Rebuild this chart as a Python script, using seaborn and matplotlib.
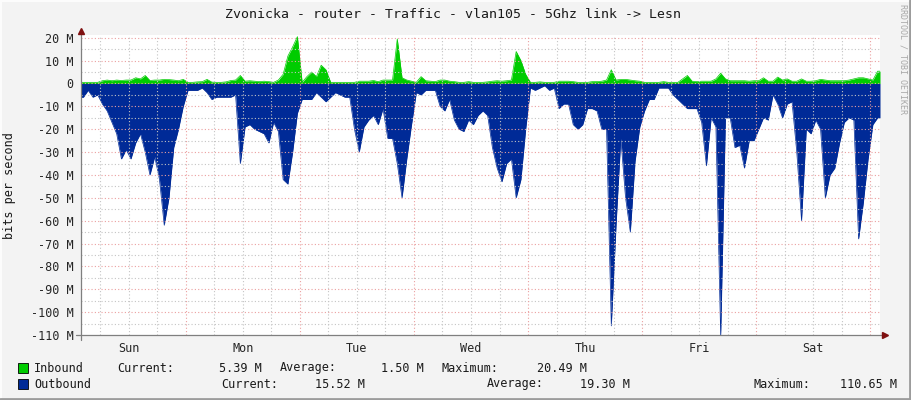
import numpy as np
import pandas as pd
import matplotlib
matplotlib.use("Agg")
import matplotlib.pyplot as plt
from matplotlib.patches import Rectangle
from matplotlib.lines import Line2D
import seaborn as sns

# --- data (Mbit/s, one value per hour, graph starts Sunday 02:00) ---
title = "Zvonicka - router - Traffic - vlan105 - 5Ghz link -> Lesn"
days = ["Sun", "Mon", "Tue", "Wed", "Thu", "Fri", "Sat"]
start_hour = 2
span_hours = 168

inbound_m = [
    0.5, 0.5, 0.5, 0.5, 1.2, 1.5, 1.2, 1.5, 1.3, 1.5,
    1.5, 2.5, 2.0, 3.5, 1.3, 1.5, 1.5, 1.8, 1.7, 1.5,
    1.2, 1.8, 0.5, 0.5, 0.7, 0.8, 1.8, 0.6,
    0.5, 0.5, 0.7, 1.3, 1.5, 3.5, 1.0, 1.2, 1.0, 0.8,
    1.0, 0.8, 0.5, 1.5, 4.0, 12.0, 16.0, 20.49, 0.5, 3.0,
    5.0, 3.0, 8.0, 6.0, 0.5, 0.5, 0.5, 0.5,
    0.5, 0.5, 1.0, 1.0, 1.0, 1.3, 0.8, 1.5, 1.5, 1.5,
    19.5, 2.5, 1.5, 1.0, 0.5, 3.0, 1.2, 1.0, 0.8, 1.5,
    1.5, 1.0, 0.8, 0.5, 0.5, 0.8, 0.5, 0.5,
    0.5, 0.7, 1.0, 1.2, 1.0, 1.2, 1.5, 14.0, 10.0, 4.0,
    0.5, 0.5, 0.7, 0.5, 0.5, 0.5, 1.0, 1.0, 1.0, 0.8,
    0.5, 0.5, 0.5, 0.8, 0.8, 1.0, 1.5, 6.0,
    1.5, 1.8, 1.8, 1.5, 1.2, 1.0, 0.5, 0.5, 0.5, 0.5,
    0.8, 0.5, 0.5, 0.5, 2.0, 3.5, 1.0, 0.8, 1.0, 1.0,
    1.0, 2.0, 4.5, 2.0, 1.2, 1.2, 1.2, 1.2,
    1.0, 1.2, 1.2, 2.5, 1.0, 1.0, 2.8, 1.5, 2.0, 1.0,
    1.0, 2.0, 1.0, 1.0, 1.2, 1.8, 1.5, 1.2, 1.2, 1.2,
    1.2, 1.5, 2.0, 2.5, 2.5, 2.0, 1.5, 5.39,
]

outbound_m = [
    6, 3, 6, 5, 9, 12, 17, 22, 33, 29,
    33, 26, 22, 30, 40, 32, 42, 62, 50, 28,
    20, 10, 3, 3, 3, 2, 4, 7,
    6, 6, 6, 6, 5, 35, 19, 18, 20, 21,
    22, 26, 17, 21, 42, 44, 30, 13, 7, 7,
    7, 4, 6, 8, 6, 4, 5, 6,
    6, 20, 30, 19, 16, 14, 18, 11, 24, 24,
    35, 50, 33, 18, 4, 5, 3, 3, 3, 10,
    12, 7, 16, 20, 21, 16, 18, 14,
    12, 14, 28, 37, 43, 35, 33, 50, 42, 20,
    2, 3, 2, 1, 3, 2, 11, 9, 9, 18,
    20, 18, 11, 11, 12, 20, 20, 106,
    62, 24, 50, 65, 34, 19, 12, 7, 7, 2,
    2, 2, 5, 7, 9, 11, 11, 11, 17, 36,
    15, 19, 110.65, 15, 15, 28, 27, 37,
    25, 25, 20, 15, 16, 5, 9, 15, 9, 8,
    30, 60, 20, 22, 16, 20, 50, 40, 37, 26,
    17, 15, 16, 68, 52, 33, 18, 15,
]

legend_names = ["Inbound", "Outbound"]
inbound_stats = ["5.39 M", "1.50 M", "20.49 M"]
outbound_stats = ["15.52 M", "19.30 M", "110.65 M"]

IN_COLOR = "#00CC00"
OUT_COLOR = "#002A97"
MAJOR_GRID = "#EBA0A0"
MINOR_GRID = "#C4C4C4"
AXIS_COLOR = "#7F7F7F"
ARROW_COLOR = "#7F1010"

W, H = 911, 400


def fx(px):
    return px / W


def fy(py):
    return 1 - py / H


sns.set_theme(style="white")
plt.rcParams["font.family"] = ["DejaVu Sans Mono"]
plt.rcParams["text.color"] = "#1A1A1A"

fig = plt.figure(figsize=(W / 100, H / 100), dpi=100, facecolor="#F3F3F3")
ax = fig.add_axes([fx(81), fy(335), 799 / W, 300 / H])
ax.set_facecolor("white")

# samples sit in the middle of each hour; first/last sample held out to the edges
hours = [0.0] + list(np.arange(span_hours) + 0.5) + [float(span_hours)]
df = pd.DataFrame({
    "hour": hours,
    "inbound": inbound_m[:1] + inbound_m + inbound_m[-1:],
    "outbound": [-v for v in outbound_m[:1] + outbound_m + outbound_m[-1:]],
})

ax.fill_between(df["hour"], 0, df["inbound"], color=IN_COLOR, lw=0, zorder=2)
ax.fill_between(df["hour"], 0, df["outbound"], color=OUT_COLOR, lw=0, zorder=2)
sns.lineplot(data=df, x="hour", y="inbound", color=IN_COLOR, lw=0.5, ax=ax, zorder=3)
sns.lineplot(data=df, x="hour", y="outbound", color=OUT_COLOR, lw=0.5, ax=ax, zorder=3)

ax.set_xlim(0, span_hours)
ax.set_ylim(-110, 21.2)

# grid drawn over the areas, rrdtool style
for v in range(-105, 21, 5):
    ax.axhline(v, color=MAJOR_GRID if v % 10 == 0 else MINOR_GRID,
               ls=(0, (1, 2)), lw=0.8, zorder=4)
for h in range(6 - start_hour, span_hours, 6):
    midnight = (h + start_hour) % 24 == 0
    ax.axvline(h, color=MAJOR_GRID if midnight else MINOR_GRID,
               ls=(0, (1, 2)), lw=0.8, zorder=4)

yticks = list(range(-110, 21, 10))
ax.set_yticks(yticks)
ax.set_yticklabels([f"{v} M" if v else "0" for v in yticks], fontsize=8.5)
noons = [24 * i + 12 - start_hour for i in range(len(days))]
ax.set_xticks(noons)
ax.set_xticklabels(days, fontsize=8.5)
ax.set_xticks(list(range(6 - start_hour, span_hours, 6)), minor=True)
ax.tick_params(axis="y", direction="inout", length=6, width=0.8, color=AXIS_COLOR, pad=2.5)
ax.tick_params(axis="x", which="both", direction="inout", length=4, width=0.8,
               color=AXIS_COLOR, pad=3)
ax.set_xlabel("")
ax.set_ylabel("")
for s in ax.spines.values():
    s.set_visible(False)

# axes with arrows
fig.add_artist(Line2D([fx(81), fx(81)], [fy(340), fy(31)], color=AXIS_COLOR, lw=0.9))
fig.add_artist(Line2D([fx(76), fx(884)], [fy(335), fy(335)], color=AXIS_COLOR, lw=0.9))
fig.add_artist(Line2D([fx(81)], [fy(31)], marker="^", ms=4.5, color=ARROW_COLOR, lw=0))
fig.add_artist(Line2D([fx(885)], [fy(335)], marker=">", ms=4.5, color=ARROW_COLOR, lw=0))

# texts
fig.text(fx(453), fy(15), title, ha="center", va="center", fontsize=9.5)
fig.text(fx(10), fy(186), "bits per second", rotation=90, ha="center", va="center", fontsize=8.5)
fig.text(fx(903), fy(4), "RRDTOOL / TOBI OETIKER", rotation=270, ha="center", va="top",
         fontsize=6, color="#A8A8A8")

# legend
for row, (name, color) in enumerate([(legend_names[0], IN_COLOR), (legend_names[1], OUT_COLOR)]):
    yc = 368 + 16 * row
    fig.add_artist(Rectangle((fx(18), fy(yc + 5)), 10 / W, 10 / H, facecolor=color,
                             edgecolor="black", lw=0.6))
    fig.text(fx(34), fy(yc), name, va="center", fontsize=8.5)

lab_x = [(117, 262), (280, 424), (442, 587)]
for (lx, vx), lab, val in zip(lab_x, ["Current:", "Average:", "Maximum:"], inbound_stats):
    fig.text(fx(lx), fy(368), lab, va="center", fontsize=8.5)
    fig.text(fx(vx), fy(368), val, va="center", ha="right", fontsize=8.5)
lab_x2 = [(221, 365), (487, 630), (753, 897)]
for (lx, vx), lab, val in zip(lab_x2, ["Current:", "Average:", "Maximum:"], outbound_stats):
    fig.text(fx(lx), fy(384), lab, va="center", fontsize=8.5)
    fig.text(fx(vx), fy(384), val, va="center", ha="right", fontsize=8.5)

# 3d-ish frame
fig.add_artist(Line2D([0, 1], [fy(0.5), fy(0.5)], color="#FCFCFC", lw=1.5))
fig.add_artist(Line2D([fx(0.5), fx(0.5)], [0, 1], color="#FCFCFC", lw=1.5))
fig.add_artist(Line2D([0, 1], [fy(399), fy(399)], color="#9C9C9C", lw=2))
fig.add_artist(Line2D([fx(910), fx(910)], [0, 1], color="#9C9C9C", lw=2))

fig.savefig("out.png", dpi=100, facecolor=fig.get_facecolor())
